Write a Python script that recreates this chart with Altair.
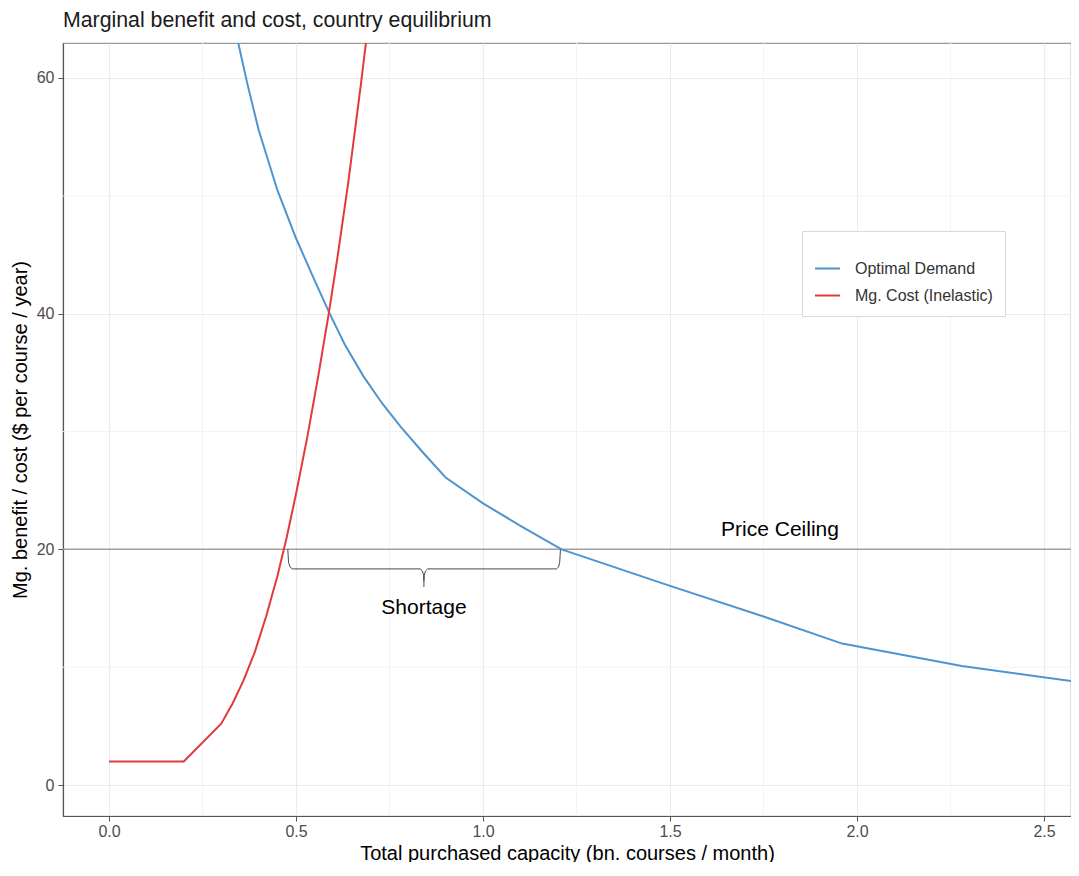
import altair as alt
import pandas as pd

# ---- data ----
series_names = ["Optimal Demand", "Mg. Cost (Inelastic)"]
series_colors = ["#5093cd", "#e23a3c"]

demand_x = [0.33, 0.346, 0.37, 0.40, 0.45, 0.50, 0.55, 0.59, 0.63, 0.68, 0.73, 0.78, 0.84, 0.90,
            1.00, 1.10, 1.21, 1.50, 1.75, 1.96, 2.28, 2.60]
demand_y = [65.3, 62.9, 59.5, 55.6, 50.5, 46.4, 42.8, 40.0, 37.4, 34.7, 32.4, 30.4, 28.2, 26.1,
            23.9, 22.0, 20.0, 16.9, 14.3, 12.0, 10.1, 8.7]

cost_x = [0.0, 0.20, 0.30, 0.33, 0.36, 0.39, 0.42, 0.45, 0.475, 0.50, 0.53, 0.56, 0.5875, 0.61, 0.64, 0.674, 0.70]
cost_y = [2.0, 2.0, 5.2, 6.9, 8.9, 11.3, 14.3, 17.7, 21.0, 24.7, 29.5, 34.8, 40.0, 44.6, 51.2, 59.6, 66.4]

price_ceiling = [20]

# shortage brace (two halves)
brace_left_x = [0.478, 0.480, 0.484, 0.490, 0.832, 0.838, 0.841, 0.842, 0.842]
brace_left_y = [20.0, 18.9, 18.5, 18.34, 18.34, 18.15, 17.8, 17.3, 16.8]
brace_right_x = [0.842, 0.843, 0.846, 0.852, 1.196, 1.202, 1.205, 1.207]
brace_right_y = [17.3, 17.8, 18.15, 18.34, 18.34, 18.5, 18.9, 20.0]

label_text = ["Price Ceiling", "Shortage"]
label_x = [1.794, 0.842]
label_y = [21.6, 15.0]

x_ticks = [0.0, 0.5, 1.0, 1.5, 2.0, 2.5]
y_ticks = [0, 20, 40, 60]
x_minor = [0.25, 0.75, 1.25, 1.75, 2.25]
y_minor = [10, 30, 50]

x_title = "Total purchased capacity (bn. courses / month)"
y_title = "Mg. benefit / cost ($ per course / year)"
chart_title = "Marginal benefit and cost, country equilibrium"

# ---- tables ----
curves = pd.DataFrame(
    [{"x": a, "y": b, "series": series_names[0], "o": i} for i, (a, b) in enumerate(zip(demand_x, demand_y))]
    + [{"x": a, "y": b, "series": series_names[1], "o": i} for i, (a, b) in enumerate(zip(cost_x, cost_y))]
)
brace = pd.DataFrame(
    [{"x": a, "y": b, "part": "L", "o": i} for i, (a, b) in enumerate(zip(brace_left_x, brace_left_y))]
    + [{"x": a, "y": b, "part": "R", "o": i} for i, (a, b) in enumerate(zip(brace_right_x, brace_right_y))]
)
labels = pd.DataFrame({"x": label_x, "y": label_y, "t": label_text})
hline = pd.DataFrame({"y": price_ceiling})
vminor = pd.DataFrame({"x": x_minor})
hminor = pd.DataFrame({"y": y_minor})

xs = alt.Scale(domain=[-0.123, 2.572], nice=False, zero=False)
ys = alt.Scale(domain=[-2.63, 62.97], nice=False, zero=False)
xaxis = alt.Axis(values=x_ticks, format=".1f", labelPadding=2, titlePadding=4)
yaxis = alt.Axis(values=y_ticks, format="d", labelPadding=4, titlePadding=6)


def X(f):
    return alt.X(f, type="quantitative", scale=xs, axis=xaxis, title=x_title)


def Y(f):
    return alt.Y(f, type="quantitative", scale=ys, axis=yaxis, title=y_title)


minor_v = alt.Chart(vminor).mark_rule(color="#f3f3f3", strokeWidth=1).encode(x=X("x"))
minor_h = alt.Chart(hminor).mark_rule(color="#f3f3f3", strokeWidth=1).encode(y=Y("y"))

ceiling = alt.Chart(hline).mark_rule(color="#a0a0a0", strokeWidth=1.5).encode(y=Y("y"))

brace_layer = alt.Chart(brace).mark_line(color="#333333", strokeWidth=0.9).encode(
    x=X("x"), y=Y("y"), detail="part:N", order="o:Q"
)

lines = alt.Chart(curves).mark_line(clip=True, strokeWidth=2).encode(
    x=X("x"),
    y=Y("y"),
    order="o:Q",
    color=alt.Color(
        "series:N",
        scale=alt.Scale(domain=series_names, range=series_colors),
        legend=alt.Legend(
            title=" ",
            orient="none",
            legendX=739,
            legendY=188,
            fillColor="white",
            strokeColor="#d9d9d9",
            padding=12,
            titleFontSize=9,
            titlePadding=3,
            rowPadding=5,
            symbolType="stroke",
            symbolSize=625,
            symbolStrokeWidth=2,
            labelOffset=14,
            labelFontSize=16,
            labelFont="Liberation Sans",
            labelColor="#333333",
        ),
    ),
)

texts = alt.Chart(labels).mark_text(font="Liberation Sans", fontSize=21, color="black").encode(
    x=X("x"), y=Y("y"), text="t:N"
)

chart = (
    alt.layer(minor_v, minor_h, ceiling, brace_layer, lines, texts)
    .properties(
        width=1008,
        height=773,
        padding={"left": 55, "top": 35, "right": 0, "bottom": 46},
        autosize=alt.AutoSizeParams(type="none"),
        title=alt.TitleParams(
            chart_title,
            anchor="start",
            frame="group",
            font="Liberation Sans",
            fontSize=21.3,
            fontWeight="normal",
            color="#1a1a1a",
            offset=11,
        ),
    )
    .configure_view(stroke="#9a9a9a", strokeWidth=1.2)
    .configure_axis(
        grid=True,
        gridColor="#ebebeb",
        gridWidth=1.1,
        domainColor="#555555",
        domainWidth=1.2,
        tickColor="#555555",
        tickSize=5,
        labelColor="#4d4d4d",
        labelFontSize=16,
        labelFont="Liberation Sans",
        titleFont="Liberation Sans",
        titleFontSize=20,
        titleFontWeight="normal",
        titleColor="black",
    )
)

chart.save("out.html", embed_options={"renderer": "svg", "actions": False})
